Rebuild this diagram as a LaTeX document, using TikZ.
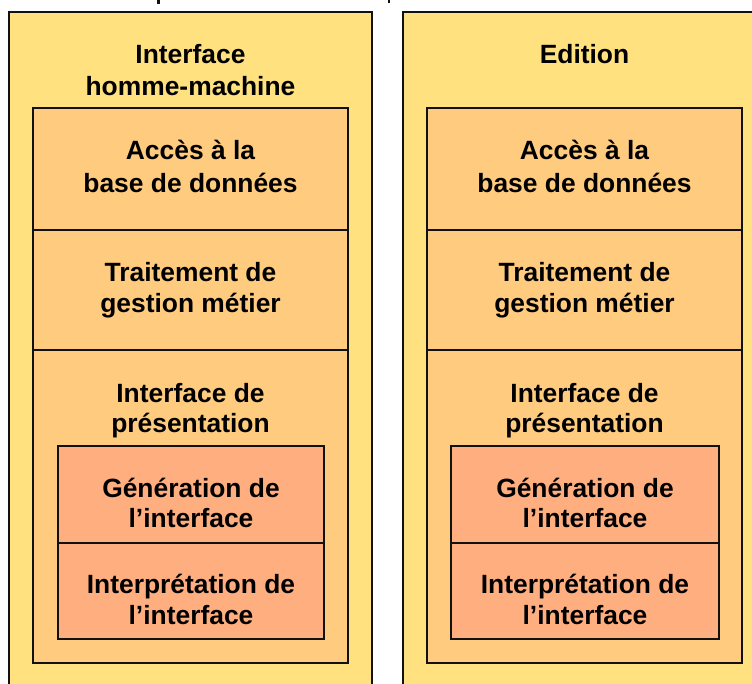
\documentclass[tikz,border=0pt]{standalone}
\usepackage{fontspec}
\setmainfont{Liberation Sans}
\definecolor{outerY}{HTML}{FFE17F}
\definecolor{midO}{HTML}{FFCB7F}
\definecolor{innerO}{HTML}{FFAF7F}
\definecolor{edgeK}{HTML}{111111}
\tikzset{
  outerbox/.style={fill=outerY,draw=edgeK,line width=1.7pt},
  midbox/.style={fill=midO,draw=edgeK,line width=2.2pt},
  innerbox/.style={fill=innerO,draw=edgeK,line width=2.1pt},
  lbl/.style={anchor=base,inner sep=0pt,font=\bfseries\fontsize{19.8pt}{24pt}\selectfont},
  tick/.style={draw=edgeK,line width=1.8pt}
}
\begin{document}
\begin{tikzpicture}[x=0.75pt,y=-0.75pt]
\clip (0,0) rectangle (752,683);
\fill[white] (0,0) rectangle (752,683);
% top fragments
\coordinate (t1a) at (158.5,0); \coordinate (t1b) at (158.5,4);
\coordinate (t2a) at (389,0); \coordinate (t2b) at (389,3);
\draw[tick] (t1a) -- (t1b);
\draw[tick] (t2a) -- (t2b);
% left column
\draw[outerbox] (9,12) rectangle (372,720);
\draw[midbox] (33,108) rectangle (348,230);
\draw[midbox] (33,230) rectangle (348,350);
\draw[midbox] (33,350) rectangle (348,663);
\draw[innerbox] (58,446) rectangle (324,543);
\draw[innerbox] (58,543) rectangle (324,639);
% right column
\draw[outerbox] (403,12) rectangle (775,720);
\draw[midbox] (427,108) rectangle (742,230);
\draw[midbox] (427,230) rectangle (742,350);
\draw[midbox] (427,350) rectangle (742,663);
\draw[innerbox] (451,446) rectangle (719,543);
\draw[innerbox] (451,543) rectangle (719,639);
% left labels
\node[lbl] (lt1) at (190.5,63) {Interface};
\node[lbl] (lt2) at (190.5,95) {homme-machine};
\node[lbl] (la1) at (190.5,159) {Accès à la};
\node[lbl] (la2) at (190.5,192) {base de données};
\node[lbl] (lb1) at (190.5,281) {Traitement de};
\node[lbl] (lb2) at (190.5,312) {gestion métier};
\node[lbl] (lc1) at (190.5,402) {Interface de};
\node[lbl] (lc2) at (190.5,432) {présentation};
\node[lbl] (ld1) at (191,497) {Génération de};
\node[lbl] (ld2) at (191,527) {l’interface};
\node[lbl] (le1) at (191,593) {Interprétation de};
\node[lbl] (le2) at (191,624) {l’interface};
% right labels
\node[lbl] (rt1) at (584.5,63) {Edition};
\node[lbl] (ra1) at (584.5,159) {Accès à la};
\node[lbl] (ra2) at (584.5,192) {base de données};
\node[lbl] (rb1) at (584.5,281) {Traitement de};
\node[lbl] (rb2) at (584.5,312) {gestion métier};
\node[lbl] (rc1) at (584.5,402) {Interface de};
\node[lbl] (rc2) at (584.5,432) {présentation};
\node[lbl] (rd1) at (585,497) {Génération de};
\node[lbl] (rd2) at (585,527) {l’interface};
\node[lbl] (re1) at (585,593) {Interprétation de};
\node[lbl] (re2) at (585,624) {l’interface};
\end{tikzpicture}
\end{document}
